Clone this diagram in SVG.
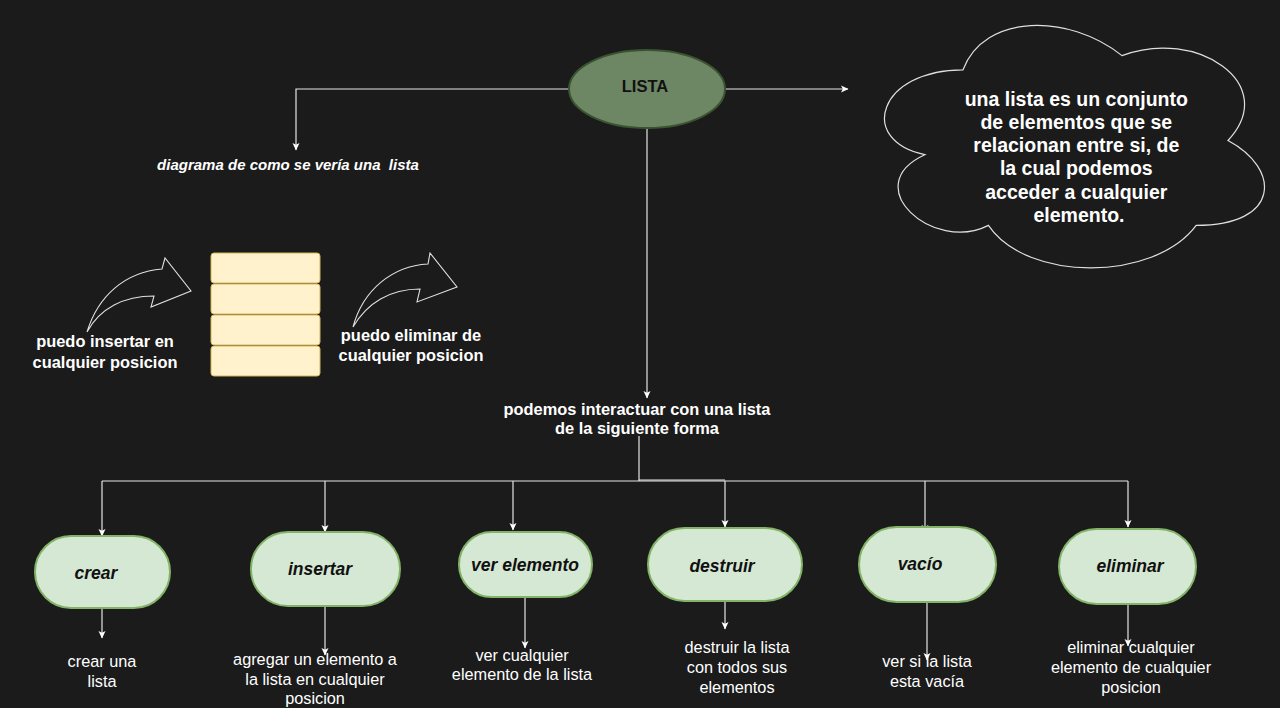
<svg xmlns="http://www.w3.org/2000/svg" width="1280" height="708" viewBox="0 0 1280 708">
<defs>
<style>
.bg{fill:#1b1b1b}
.ln{fill:none;stroke:#e6e6e6;stroke-width:1.2}
.t{font-family:"Liberation Sans",Arial,sans-serif;fill:#ffffff;text-anchor:middle}
.b{font-weight:bold}
.i{font-style:italic}
.node{fill:#d5e8d4;stroke:#82b366;stroke-width:2}
.nt{font-family:"Liberation Sans",Arial,sans-serif;font-size:17.5px;font-weight:bold;font-style:italic;fill:#111111;text-anchor:middle}
.desc{font-size:16.3px}
.stack{fill:#fff2cc;stroke:#d6b656;stroke-width:1}
.curv{fill:none;stroke:#e0e0e0;stroke-width:1.1}
</style>
<marker id="ah" markerWidth="8" markerHeight="8" viewBox="0 0 8 8" refX="7" refY="4" orient="auto" markerUnits="userSpaceOnUse">
<path d="M0,0.5 L7.5,4 L0,7.5 L1.8,4 Z" fill="#ffffff"/>
</marker>
</defs>
<rect class="bg" x="0" y="0" width="1280" height="708"/>

<g id="connectors">
<path class="ln" d="M569,89 H296 V150" marker-end="url(#ah)"/>
<path class="ln" d="M725,89 H848" marker-end="url(#ah)"/>
<path class="ln" d="M647,128 V398" marker-end="url(#ah)"/>
<path class="ln" d="M639,436 V481"/>
<path class="ln" d="M102,481 H1128"/>
<path class="ln" d="M639,480 H725"/>
<path class="ln" d="M102,481 V536" marker-end="url(#ah)"/>
<path class="ln" d="M325,481 V532" marker-end="url(#ah)"/>
<path class="ln" d="M513,481 V530" marker-end="url(#ah)"/>
<path class="ln" d="M725,481 V527" marker-end="url(#ah)"/>
<path class="ln" d="M925,481 V532" marker-end="url(#ah)"/>
<path class="ln" d="M1128,481 V527" marker-end="url(#ah)"/>
<path class="ln" d="M102,608 V638" marker-end="url(#ah)"/>
<path class="ln" d="M325,606 V655" marker-end="url(#ah)"/>
<path class="ln" d="M525,597 V648" marker-end="url(#ah)"/>
<path class="ln" d="M725,601 V629" marker-end="url(#ah)"/>
<path class="ln" d="M927,602 V660" marker-end="url(#ah)"/>
<path class="ln" d="M1128,604 V646" marker-end="url(#ah)"/>
</g>

<g id="lista">
<ellipse cx="647" cy="89" rx="78" ry="39" fill="#6d8764" stroke="#3a5431" stroke-width="2"/>
<text class="t b" x="645" y="92" font-size="16.5" style="fill:#111111">LISTA</text>
</g>

<g id="diagrama-label">
<text class="t b i" x="288" y="170" font-size="15" xml:space="preserve">diagrama de como se vería una  lista</text>
</g>

<g id="definicion">
<path d="M963,69.8 C878.2,69.8 857,140.5 924.8,154.7 C857,185.8 933.3,253.7 988.4,225.4 C1026.6,282 1153.8,282 1196.2,225.4 C1281,225.4 1281,168.8 1228,140.5 C1281,83.9 1196.2,27.3 1122,55.6 C1069,13.2 984.2,13.2 963,69.8 Z" fill="#1b1b1b" stroke="#e0e0e0" stroke-width="1.2"/>
<text class="t b" font-size="19.5">
<tspan x="1079" y="106">una lista es un conjunto</tspan>
<tspan x="1079" y="129">de elementos que se</tspan>
<tspan x="1079" y="152">relacionan entre si, de</tspan>
<tspan x="1079" y="175">la cual podemos</tspan>
<tspan x="1079" y="199">acceder a cualquier</tspan>
<tspan x="1079" y="222">elemento.</tspan>
</text>
</g>

<g id="stack">
<rect class="stack" x="211" y="253" width="109" height="30" rx="3"/>
<rect class="stack" x="211" y="284" width="109" height="30" rx="3"/>
<rect class="stack" x="211" y="315" width="109" height="30" rx="3"/>
<rect class="stack" x="211" y="346" width="109" height="30" rx="3"/>
</g>

<g id="insertar-flecha">
<path class="curv" d="M87,332 C98,296 125,272 162,269 L165,258 L191,291 L151,307 L154,296 C124,296 100,308 87,332 Z"/>
<text class="t b" font-size="16.4"><tspan x="105" y="347">puedo insertar en</tspan><tspan x="105" y="368">cualquier posicion</tspan></text>
</g>

<g id="eliminar-flecha">
<path class="curv" d="M353,327 C363,290 392,266 428,264 L430,253 L457,287 L417,302 L420,289 C390,289 367,303 353,327 Z"/>
<text class="t b" font-size="16.4"><tspan x="411" y="341">puedo eliminar de</tspan><tspan x="411" y="361">cualquier posicion</tspan></text>
</g>

<g id="interactuar">
<text class="t b" font-size="16.4"><tspan x="637" y="415">podemos interactuar con una lista</tspan><tspan x="637" y="434">de la siguiente forma</tspan></text>
</g>

<g id="crear">
<rect class="node" x="35" y="536" width="135" height="72" rx="36"/>
<text class="nt" x="96" y="579">crear</text>
<text class="t desc"><tspan x="102" y="667">crear una</tspan><tspan x="102" y="687">lista</tspan></text>
</g>

<g id="insertar">
<rect class="node" x="251" y="532" width="149" height="74" rx="37"/>
<text class="nt" x="320" y="575">insertar</text>
<text class="t desc"><tspan x="315" y="665">agregar un elemento a</tspan><tspan x="315" y="685">la lista en cualquier</tspan><tspan x="315" y="704">posicion</tspan></text>
</g>

<g id="ver-elemento">
<rect class="node" x="459" y="532" width="133" height="65" rx="32.5"/>
<text class="nt" x="525" y="571">ver elemento</text>
<text class="t desc"><tspan x="522" y="661">ver cualquier</tspan><tspan x="522" y="680">elemento de la lista</tspan></text>
</g>

<g id="destruir">
<rect class="node" x="648" y="528" width="154" height="73" rx="36.5"/>
<text class="nt" x="722" y="572">destruir</text>
<text class="t desc"><tspan x="737" y="653">destruir la lista</tspan><tspan x="737" y="673">con todos sus</tspan><tspan x="737" y="693">elementos</tspan></text>
</g>

<g id="vacio">
<rect class="node" x="859" y="527" width="137" height="75" rx="37.5"/>
<text class="nt" x="920" y="570">vacío</text>
<text class="t desc"><tspan x="927" y="667">ver si la lista</tspan><tspan x="927" y="687">esta vacía</tspan></text>
</g>

<g id="eliminar">
<rect class="node" x="1059" y="529" width="137" height="75" rx="37.5"/>
<text class="nt" x="1130" y="572">eliminar</text>
<text class="t desc"><tspan x="1131" y="653">eliminar cualquier</tspan><tspan x="1131" y="673">elemento de cualquier</tspan><tspan x="1131" y="693">posicion</tspan></text>
</g>
</svg>
